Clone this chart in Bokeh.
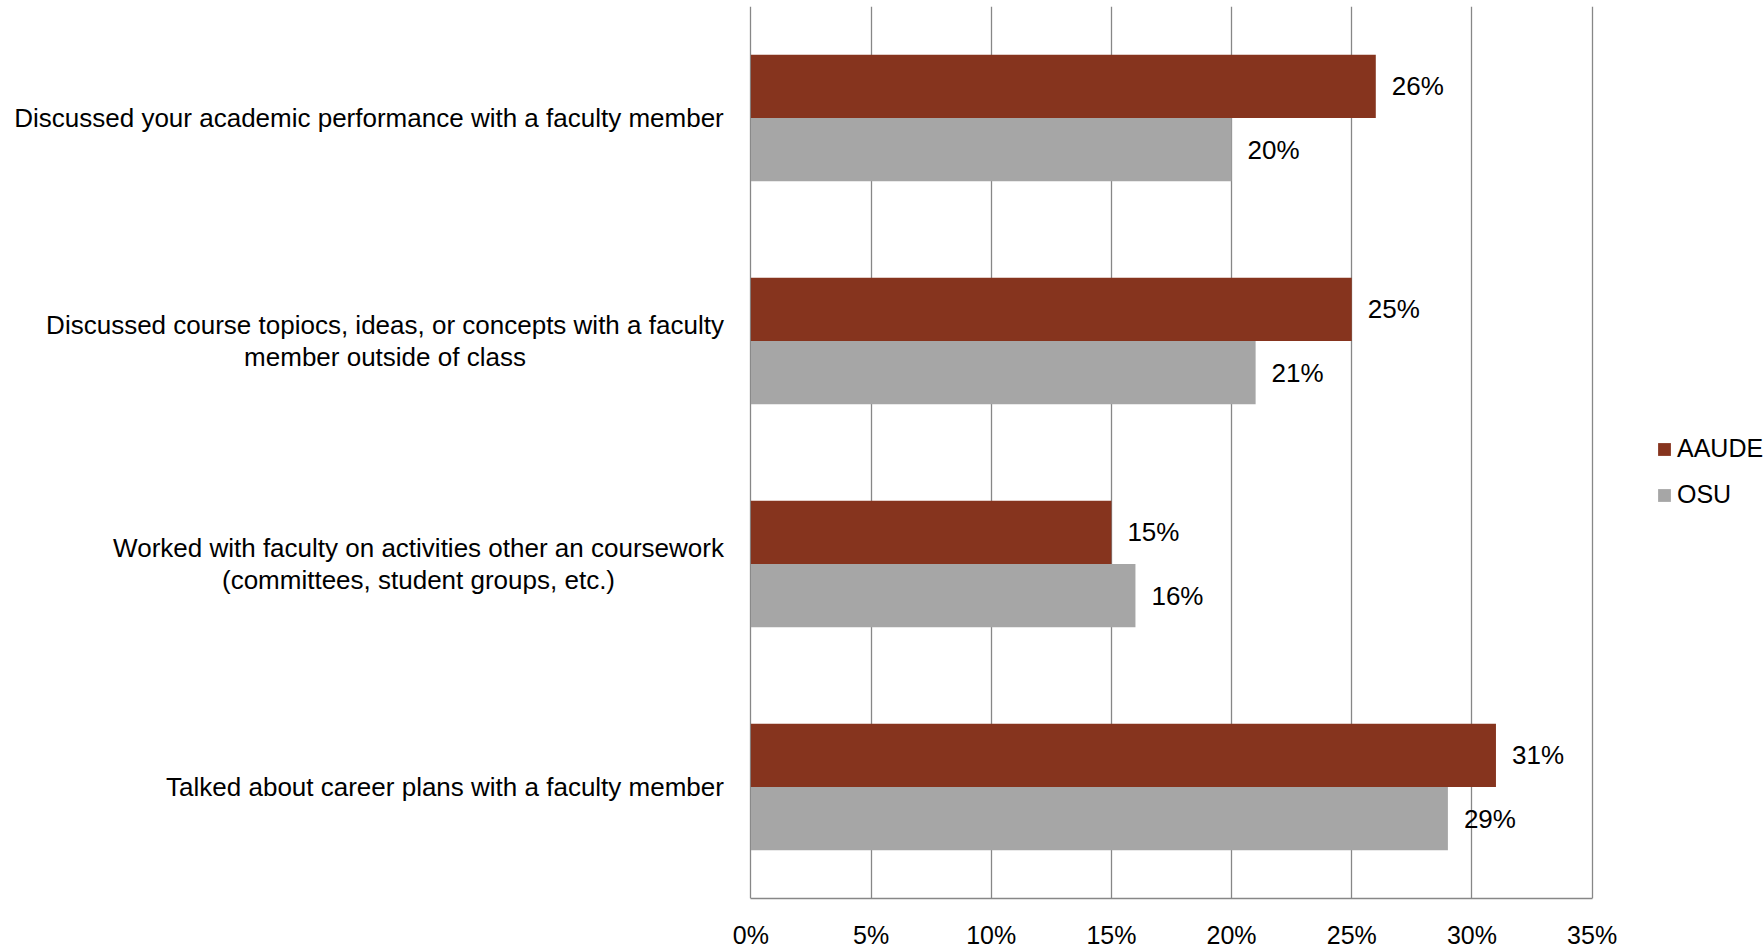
from bokeh.plotting import figure
from bokeh.layouts import row
from bokeh.models import (FactorRange, Range1d, Legend, LegendItem, ColumnDataSource,
                          NumeralTickFormatter, FixedTicker)
from bokeh.transform import dodge
from bokeh.core.properties import value
from bokeh.embed import file_html
from bokeh.resources import INLINE

categories = [
    "Discussed your academic performance with a faculty member",
    "Discussed course topiocs, ideas, or concepts with a faculty\nmember outside of class",
    "Worked with faculty on activities other an coursework\n(committees, student groups, etc.)",
    "Talked about career plans with a faculty member",
]
series = ["AAUDE", "OSU"]
aaude = [0.26, 0.25, 0.15, 0.31]
osu = [0.20, 0.21, 0.16, 0.29]
x_ticks = [0, 0.05, 0.10, 0.15, 0.20, 0.25, 0.30, 0.35]

colors = {"AAUDE": "#86341E", "OSU": "#A6A6A6"}
FONT = "Liberation Sans"
FS = "26px"

# layout helper: approximate rendered width (px) of the widest line of each
# category label, used to centre the lines of a label block whose right edge
# sits next to the chart
label_block_width = [709, 677, 610, 557]
LABEL_PANEL_W = 730
LABEL_RIGHT = 723

src = ColumnDataSource(dict(
    cat=categories,
    AAUDE=aaude,
    OSU=osu,
    AAUDE_lbl=[f"{round(v * 100)}%" for v in aaude],
    OSU_lbl=[f"{round(v * 100)}%" for v in osu],
    lbl_x=[LABEL_RIGHT - w / 2 for w in label_block_width],
))

y_range = FactorRange(factors=categories[::-1])

# ---- main chart ----
PAD = 0.001
p = figure(
    frame_width=846, frame_height=892,
    y_range=y_range,
    x_range=Range1d(x_ticks[0] - PAD, x_ticks[-1] + PAD),
    output_backend="svg", toolbar_location=None,
    min_border_left=18, min_border_right=170, min_border_top=6, min_border_bottom=48,
)
p.outline_line_color = None
p.background_fill_color = "white"
p.border_fill_color = "white"

offsets = {"AAUDE": 0.142, "OSU": -0.142}
renderers = {}
for s in series:
    renderers[s] = p.hbar(y=dodge("cat", offsets[s], range=y_range), left=0, right=s,
                          height=0.284, source=src, fill_color=colors[s], line_color=None)
    p.text(x=s, y=dodge("cat", offsets[s], range=y_range), text=s + "_lbl", source=src,
           x_offset=16, text_baseline="middle", text_align="left",
           text_font=value(FONT), text_font_size=FS, text_color="#000000")

p.xgrid.ticker = FixedTicker(ticks=x_ticks)
p.xgrid.grid_line_color = "#878787"
p.xgrid.grid_line_width = 1.3
p.ygrid.grid_line_color = None

p.xaxis.ticker = FixedTicker(ticks=x_ticks)
p.xaxis.formatter = NumeralTickFormatter(format="0%")
p.xaxis.axis_line_color = "#878787"
p.xaxis.axis_line_width = 1.5
p.xaxis.major_tick_line_color = None
p.xaxis.minor_tick_line_color = None
p.xaxis.major_label_text_font = FONT
p.xaxis.major_label_text_font_size = "25px"
p.xaxis.major_label_text_color = "#000000"
p.xaxis.major_label_standoff = 16
p.xaxis.bounds = (x_ticks[0], x_ticks[-1])

p.yaxis.visible = False

legend = Legend(items=[LegendItem(label=s, renderers=[renderers[s]]) for s in series],
                location=(62, 389), orientation="vertical")
legend.border_line_color = None
legend.background_fill_alpha = 0
legend.glyph_width = 16
legend.glyph_height = 16
legend.label_text_font = FONT
legend.label_text_font_size = "25px"
legend.label_text_color = "#000000"
legend.label_standoff = 5
legend.spacing = 17
legend.margin = 0
legend.padding = 0
p.add_layout(legend, "right")

# ---- category label panel (shares the y range) ----
lp = figure(
    frame_width=LABEL_PANEL_W, frame_height=892,
    y_range=y_range, x_range=Range1d(0, LABEL_PANEL_W),
    x_axis_type=None, y_axis_type=None,
    output_backend="svg", toolbar_location=None,
    min_border_left=0, min_border_right=0, min_border_top=6, min_border_bottom=48,
)
lp.outline_line_color = None
lp.text(x="lbl_x", y="cat", text="cat", source=src,
        text_align="center", text_baseline="middle", text_line_height=1.05,
        text_font=value(FONT), text_font_size=FS, text_color="#000000")

layout = row(lp, p, spacing=0)
open("out.html", "w").write(file_html(layout, INLINE))
